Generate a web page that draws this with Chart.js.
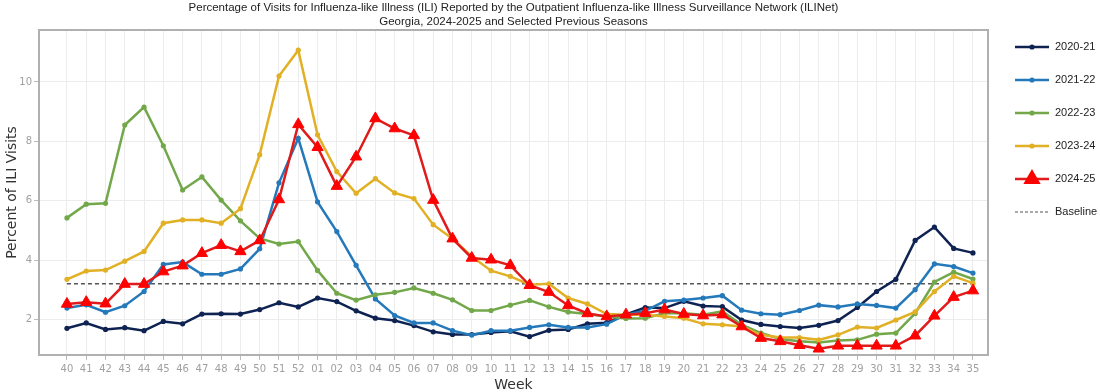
<!DOCTYPE html>
<html>
<head>
<meta charset="utf-8">
<script src="https://cdn.jsdelivr.net/npm/chart.js@4/dist/chart.umd.min.js"></script>
<style>
  html, body { margin: 0; padding: 0; background: #fff; }
  #wrap { width: 1100px; height: 392px; position: relative; }
</style>
</head>
<body>
<div id="wrap"><canvas id="iliChart"></canvas></div>
<script>
// Semanas de la temporada (40 → 35)
const weeks = ["40","41","42","43","44","45","46","47","48","49","50","51","52",
  "01","02","03","04","05","06","07","08","09","10","11","12","13","14","15","16","17","18",
  "19","20","21","22","23","24","25","26","27","28","29","30","31","32","33","34","35"];

const season2020 = [1.7,1.88,1.66,1.72,1.62,1.93,1.85,2.18,2.19,2.18,2.33,2.56,2.42,
  2.72,2.6,2.29,2.04,1.96,1.79,1.58,1.49,1.49,1.56,1.6,1.42,1.63,1.66,1.85,1.89,2.17,2.4,
  2.38,2.61,2.45,2.43,1.98,1.83,1.76,1.71,1.8,1.96,2.4,2.94,3.35,4.66,5.11,4.39,4.24];

const season2021 = [2.38,2.49,2.24,2.46,2.94,3.85,3.93,3.52,3.52,3.7,4.38,6.6,8.1,
  5.96,4.96,3.82,2.69,2.13,1.88,1.88,1.62,1.47,1.62,1.62,1.73,1.82,1.73,1.73,1.84,2.16,2.29,
  2.61,2.65,2.72,2.8,2.31,2.19,2.16,2.3,2.48,2.42,2.52,2.47,2.38,3.0,3.87,3.78,3.56];

const season2022 = [5.42,5.88,5.91,8.55,9.15,7.85,6.36,6.8,6.02,5.32,4.73,4.54,4.62,
  3.65,2.88,2.65,2.83,2.91,3.06,2.88,2.66,2.3,2.3,2.48,2.64,2.42,2.25,2.18,2.1,2.03,2.04,
  2.21,2.21,2.16,2.27,1.82,1.54,1.34,1.26,1.22,1.29,1.31,1.5,1.54,2.2,3.26,3.59,3.36];

const season2023 = [3.35,3.63,3.66,3.96,4.29,5.24,5.35,5.35,5.24,5.73,7.55,10.2,11.07,
  8.22,6.98,6.25,6.74,6.26,6.07,5.19,4.72,4.12,3.64,3.45,3.17,3.2,2.72,2.52,2.18,2.16,2.16,
  2.1,2.04,1.85,1.82,1.76,1.48,1.39,1.39,1.31,1.48,1.74,1.71,1.98,2.25,2.94,3.45,3.22];

const season2024 = [2.52,2.58,2.53,3.19,3.19,3.61,3.81,4.23,4.5,4.29,4.66,6.04,8.57,
  7.8,6.49,7.48,8.77,8.43,8.2,6.02,4.72,4.07,4.01,3.82,3.15,2.92,2.47,2.2,2.1,2.16,2.21,
  2.33,2.18,2.13,2.16,1.76,1.37,1.26,1.13,1.01,1.11,1.11,1.11,1.11,1.45,2.12,2.75,2.97];

const baselineValue = 3.2;
const yTicks = [2, 4, 6, 8, 10];

// Convertir a puntos {x, y} para el eje lineal
const toPoints = (arr) => arr.map((v, i) => ({ x: i, y: v }));

function seasonDataset(label, values, color, extra) {
  return Object.assign({
    label: label,
    data: toPoints(values),
    borderColor: color,
    backgroundColor: color,
    borderWidth: 2.5,
    pointRadius: 2.6,
    pointHoverRadius: 3,
    pointBorderWidth: 0,
    pointStyle: "circle",
    tension: 0,
  }, extra || {});
}

const datasets = [
  seasonDataset("2020-21", season2020, "#0f2352", { order: 5 }),
  seasonDataset("2021-22", season2021, "#2479bb", { order: 4 }),
  seasonDataset("2022-23", season2022, "#72a84a", { order: 3 }),
  seasonDataset("2023-24", season2023, "#e1b025", { order: 2 }),
  seasonDataset("2024-25", season2024, "#e01b1b", {
    order: 1,
    pointStyle: "triangle",
    pointRadius: 6.5,
    pointBackgroundColor: "#ff0000",
    pointBorderColor: "#ff0000",
    pointBorderWidth: 1,
  }),
  {
    label: "Baseline",
    data: toPoints(weeks.map(() => baselineValue)),
    borderColor: "#555555",
    borderWidth: 1.6,
    borderDash: [4, 3],
    pointRadius: 0,
    order: 6,
  },
];

// Marco gris alrededor del área del gráfico
const framePlugin = {
  id: "frame",
  afterDatasetsDraw(chart) {
    const { ctx, chartArea: a } = chart;
    ctx.save();
    ctx.strokeStyle = "#b0b0b0";
    ctx.lineWidth = 2;
    ctx.strokeRect(a.left, a.top, a.right - a.left, a.bottom - a.top);
    ctx.restore();
  },
};

// Leyenda a la derecha: línea con marcador y texto
const sideLegendPlugin = {
  id: "sideLegend",
  afterDraw(chart) {
    const { ctx } = chart;
    const x0 = 1015, x1 = 1049, textX = 1055;
    ctx.save();
    chart.data.datasets.forEach((ds, i) => {
      const y = 47 + i * 33;
      ctx.strokeStyle = ds.borderColor;
      ctx.lineWidth = ds.label === "Baseline" ? 1.2 : 2.5;
      ctx.setLineDash(ds.borderDash ? [3, 2] : []);
      ctx.beginPath();
      ctx.moveTo(x0, y);
      ctx.lineTo(x1, y);
      ctx.stroke();
      ctx.setLineDash([]);
      if (ds.pointRadius > 0) {
        ctx.fillStyle = ds.pointBackgroundColor || ds.borderColor;
        ctx.strokeStyle = ds.pointBorderColor || ds.borderColor;
        Chart.helpers.drawPoint(ctx, {
          pointStyle: ds.pointStyle,
          radius: ds.pointStyle === "triangle" ? 7.5 : 2.6,
          borderWidth: ds.pointBorderWidth || 0,
          rotation: 0,
        }, (x0 + x1) / 2, y);
      }
      ctx.fillStyle = "#222";
      ctx.font = "11px 'Liberation Sans'";
      ctx.textBaseline = "middle";
      ctx.textAlign = "left";
      ctx.fillText(ds.label, textX, y);
    });
    ctx.restore();
  },
};

const ctx = document.getElementById("iliChart").getContext("2d");
new Chart(ctx, {
  type: "line",
  data: { datasets: datasets },
  plugins: [framePlugin, sideLegendPlugin],
  options: {
    responsive: true,
    maintainAspectRatio: false,
    animation: false,
    layout: { padding: { left: 0, right: 112, top: 0, bottom: 0 } },
    scales: {
      x: {
        type: "linear",
        min: -1.45,
        max: weeks.length - 1 + 0.78,
        afterBuildTicks: (scale) => {
          scale.ticks = weeks.map((w, i) => ({ value: i }));
        },
        afterFit: (scale) => { scale.height = 37; },
        grid: { color: "#ececec", tickColor: "#bbbbbb", tickLength: 5, lineWidth: 1 },
        border: { display: false },
        ticks: {
          autoSkip: false,
          maxRotation: 0,
          padding: 3,
          color: "#a0a0a0",
          font: { family: "DejaVu Sans", size: 10 },
          callback: (value) => weeks[value],
        },
        title: {
          display: true,
          text: "Week",
          color: "#333333",
          font: { family: "DejaVu Sans", size: 14, lineHeight: 1.0 },
          padding: { top: 0, bottom: 0 },
        },
      },
      y: {
        min: 0.8,
        max: 11.75,
        afterBuildTicks: (scale) => {
          scale.ticks = yTicks.map((v) => ({ value: v }));
        },
        afterFit: (scale) => { scale.width = 39; },
        grid: { color: "#ececec", tickColor: "#bbbbbb", tickLength: 5, lineWidth: 1 },
        border: { display: false },
        ticks: {
          padding: 2,
          color: "#a0a0a0",
          font: { family: "DejaVu Sans", size: 10 },
        },
        title: {
          display: true,
          text: "Percent of ILI Visits",
          color: "#333333",
          font: { family: "DejaVu Sans", size: 14 },
          padding: { top: 4, bottom: 0 },
        },
      },
    },
    plugins: {
      legend: { display: false },
      tooltip: { enabled: false },
      title: {
        display: true,
        fullSize: false,
        text: [
          "Percentage of Visits for Influenza-like Illness (ILI) Reported by the Outpatient Influenza-like Illness Surveillance Network (ILINet)",
          "Georgia, 2024-2025 and Selected Previous Seasons",
        ],
        color: "#222222",
        font: { family: "Liberation Sans", size: 11.5, weight: "normal", lineHeight: 1.2 },
        padding: { top: 1, bottom: 1.4 },
      },
    },
  },
});
</script>
</body>
</html>
